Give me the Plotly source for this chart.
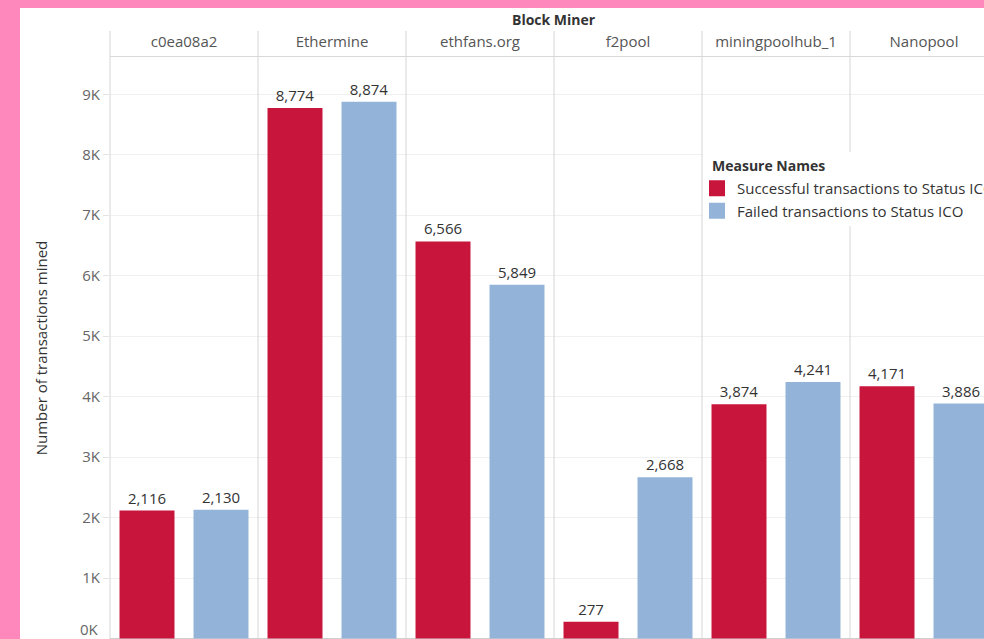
import plotly.graph_objects as go

miners = ["c0ea08a2", "Ethermine", "ethfans.org", "f2pool", "miningpoolhub_1", "Nanopool"]
successful = [2116, 8774, 6566, 277, 3874, 4171]
failed = [2130, 8874, 5849, 2668, 4241, 3886]
series_names = ["Successful transactions to Status ICO", "Failed transactions to Status ICO"]
series_colors = ["#C8153C", "#93B4D8"]
y_tick_vals = [1000, 2000, 3000, 4000, 5000, 6000, 7000, 8000, 9000]
y_tick_text = ["1K", "2K", "3K", "4K", "5K", "6K", "7K", "8K", "9K"]

FONT = "Open Sans"
FS = 15
W, H = 984, 639
ML, MT = 110, 57
PW, PH = W - ML, H - MT
PANEL = 148
xr = [-0.5, -0.5 + PW / PANEL]
yr = [-8, 9616]


def px_x(p):
    return (p - ML) / PW


def px_y(p):
    return (H - p) / PH


fig = go.Figure()
for name, vals, col in zip(series_names, [successful, failed], series_colors):
    fig.add_trace(go.Bar(
        x=miners, y=vals, name=name, marker=dict(color=col, line=dict(width=0)),
        texttemplate="%{y:,}", textposition="outside", cliponaxis=False,
        textfont=dict(family=FONT, size=FS, color="#333333"), showlegend=False,
    ))
for i, (name, col) in enumerate(zip(series_names, series_colors)):
    fig.add_trace(go.Scatter(
        x=[None], y=[None], mode="markers", name=name, legendgroup=f"g{i}",
        marker=dict(symbol="square", size=17, color=col), showlegend=True,
    ))

shapes = [dict(type="rect", xref="paper", yref="paper",
               x0=px_x(20), x1=1.02, y0=-0.02, y1=px_y(8),
               fillcolor="white", line=dict(width=0), layer="below")]
for k in range(len(miners) + 1):
    xp = (k - 0.5 - xr[0]) / (xr[1] - xr[0])
    if xp > 1.001:
        continue
    shapes.append(dict(type="line", xref="paper", yref="paper", x0=xp, x1=xp,
                       y0=-0.01, y1=px_y(31),
                       line=dict(color="#d6d6d6", width=1), layer="above"))
# legend background box
shapes.append(dict(type="rect", xref="paper", yref="paper",
                   x0=px_x(703), x1=1.02, y0=px_y(226), y1=px_y(152),
                   fillcolor="white", line=dict(width=0), layer="above"))

fig.update_layout(
    width=W, height=H, autosize=False,
    margin=dict(l=ML, r=0, t=MT, b=0, pad=0, autoexpand=False),
    paper_bgcolor="#FE88BC", plot_bgcolor="white",
    font=dict(family=FONT, size=FS, color="#333333"),
    barmode="group", bargap=0.0, bargroupgap=0.257,
    shapes=shapes,
    xaxis=dict(type="category", categoryorder="array", categoryarray=miners,
               side="top", range=xr, showgrid=False, zeroline=False,
               ticks="outside", ticklen=3, tickcolor="rgba(0,0,0,0)",
               tickfont=dict(family=FONT, size=FS, color="#555555"),
               showline=True, linecolor="#d9d9d9", linewidth=1, fixedrange=True),
    yaxis=dict(range=yr, tickvals=y_tick_vals, ticktext=y_tick_text,
               showgrid=True, gridcolor="#f0f0f0", gridwidth=1,
               ticks="outside", ticklen=6, tickcolor="#e4e4e4",
               tickfont=dict(family=FONT, size=FS, color="#666666"),
               zeroline=True, zerolinecolor="#d0d0d0", zerolinewidth=1,
               showline=False, fixedrange=True,
               title=dict(text="Number of transactions mined", standoff=30,
                          font=dict(family=FONT, size=FS, color="#333333"))),
    legend=dict(x=px_x(697), y=px_y(172), xanchor="left", yanchor="top",
                bgcolor="rgba(0,0,0,0)", borderwidth=0, tracegroupgap=0,
                font=dict(family=FONT, size=FS, color="#333333")),
    annotations=[
        dict(text="<b>Block Miner</b>", xref="paper", yref="paper",
             x=px_x(554), y=px_y(19), xanchor="center", yanchor="middle",
             showarrow=False, font=dict(family=FONT, size=14, color="#333333")),
        dict(text="<b>Measure Names</b>", xref="paper", yref="paper",
             x=px_x(710), y=px_y(165), xanchor="left", yanchor="middle",
             showarrow=False, font=dict(family=FONT, size=14, color="#333333")),
        dict(text="0K", xref="paper", yref="y", x=0, y=0, xanchor="right", yanchor="middle",
             xshift=-9, yshift=10, showarrow=False,
             font=dict(family=FONT, size=FS, color="#666666")),
    ],
)

fig.write_html("out.html")
